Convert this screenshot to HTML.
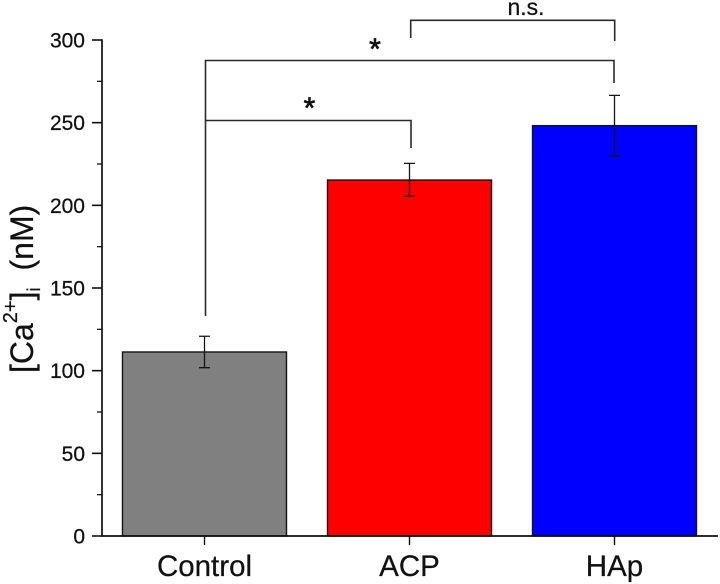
<!DOCTYPE html>
<html lang="en">
<head>
<meta charset="utf-8">
<title>Intracellular calcium bar chart</title>
<style>
html,body{margin:0;padding:0;background:#fff;}
svg{display:block;font-family:"Liberation Sans",Arial,sans-serif;}
text{stroke:#111;stroke-width:0.25px;}
</style>
</head>
<body>
<svg id="chart" width="720" height="584" viewBox="0 0 720 584" xmlns="http://www.w3.org/2000/svg">
  <text transform="translate(33,373) rotate(-90)" font-size="32" fill="#111">[Ca<tspan font-size="20" dy="-16">2+</tspan><tspan dy="16">]</tspan><tspan font-size="18" dy="7">i</tspan><tspan dy="-7" dx="17">(nM)</tspan></text>
</svg>
<script>
const categories = ['Control', 'ACP', 'HAp'];
const means = [111.3, 215.3, 248.2];
const errorUpper = [120.8, 225.4, 266.5];
const errorLower = [101.8, 205.5, 229.8];
const barColors = ['#808080', '#ff0000', '#0000ff'];
const yTickLabels = [0, 50, 100, 150, 200, 250, 300];
const yMinorTicks = [25, 75, 125, 175, 225, 275];

const svgNS = 'http://www.w3.org/2000/svg';
const svg = document.getElementById('chart');
const yScale = v => 536 - v * 496 / 300;
const xScale = i => 204.5 + i * 205;
const barWidth = 164;

function add(tag, attrs) {
  const el = document.createElementNS(svgNS, tag);
  for (const k in attrs) el.setAttribute(k, attrs[k]);
  svg.appendChild(el);
  return el;
}

// bars
categories.forEach((c, i) => {
  const bar = add('rect', {x: xScale(i) - barWidth / 2, y: yScale(means[i]), width: barWidth, height: yScale(0) - yScale(means[i]), fill: barColors[i], stroke: '#151515', 'stroke-width': 1.4});
  
  
});

// error bars
categories.forEach((c, i) => {
  const x = xScale(i);
  const top = yScale(errorUpper[i]);
  const bottom = yScale(errorLower[i]);
  const err = add('path', {d: `M${x - 5.5} ${top}H${x + 5.5}M${x} ${top}V${bottom}M${x - 5.5} ${bottom}H${x + 5.5}`, fill: 'none', stroke: '#151515', 'stroke-width': 1.3});
  
  
});

// axes
const yAxis = add('line', {x1: 102, x2: 102, y1: yScale(300) - 0.8, y2: yScale(0), stroke: '#111', 'stroke-width': 1.7});


const xAxis = add('line', {x1: 101, x2: 718, y1: yScale(0), y2: yScale(0), stroke: '#111', 'stroke-width': 1.7});



yTickLabels.forEach(v => {
  const tick = add('line', {x1: 92, x2: 102, y1: yScale(v), y2: yScale(v), stroke: '#111', 'stroke-width': 1.6});
  
  
  const label = add('text', {x: 85, y: yScale(v) + 7.5, 'text-anchor': 'end', 'font-size': 21, fill: '#111'});
  label.textContent = v;
  
  
});

yMinorTicks.forEach(v => {
  const tick = add('line', {x1: 97, x2: 102, y1: yScale(v), y2: yScale(v), stroke: '#111', 'stroke-width': 1.3});
  
  
});

categories.forEach((c, i) => {
  const tick = add('line', {x1: xScale(i), x2: xScale(i), y1: yScale(0), y2: 545, stroke: '#111', 'stroke-width': 1.4});
  
  
  const label = add('text', {x: xScale(i), y: 576, 'text-anchor': 'middle', 'font-size': 29.5, fill: '#111'});
  label.textContent = c;
  
  
});

// significance brackets
const bracket1 = add('path', {d: 'M205.5 316V120.5H411V148', fill: 'none', stroke: '#2a2a2a', 'stroke-width': 1.6});


const bracket2 = add('path', {d: 'M205.5 120V60.5H614V83', fill: 'none', stroke: '#2a2a2a', 'stroke-width': 1.6});


const bracket3 = add('path', {d: 'M410.7 38V20.3H614.7V41', fill: 'none', stroke: '#2a2a2a', 'stroke-width': 1.6});



const star1 = add('text', {x: 309.5, y: 118, 'text-anchor': 'middle', 'font-size': 30, fill: '#111', style: 'stroke-width:0.7px'});
star1.textContent = '*';


const star2 = add('text', {x: 375, y: 59, 'text-anchor': 'middle', 'font-size': 30, fill: '#111', style: 'stroke-width:0.7px'});
star2.textContent = '*';


const ns = add('text', {x: 526, y: 15, 'text-anchor': 'middle', 'font-size': 23, fill: '#111'});
ns.textContent = 'n.s.';


</script>
</body>
</html>
